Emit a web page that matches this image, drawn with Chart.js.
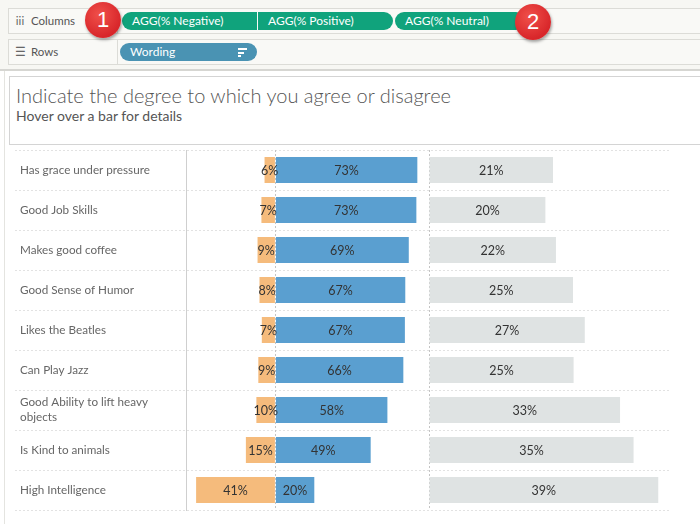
<!DOCTYPE html>
<html>
<head>
<meta charset="utf-8">
<script src="https://cdn.jsdelivr.net/npm/chart.js@4.4.1/dist/chart.umd.min.js"></script>
<style>
  html, body { margin: 0; padding: 0; background: #fff; }
  body { width: 700px; height: 524px; position: relative; overflow: hidden; font-family: Lato, "Open Sans", sans-serif; }
  .shelves { position: absolute; left: 0; top: 0; width: 700px; height: 69px; background: #f7f7f3; border-bottom: 2px solid #d6d6d2; }
  .shelf { position: absolute; left: 8px; width: 700px; height: 24px; border: 1px solid #dcdcd7; background: #f9f9f6; }
  .shelf .name { position: absolute; left: 0; top: 0; width: 108px; height: 24px; line-height: 24px; font-size: 11.5px; color: #555; border-right: 1px solid #dcdcd7; }
  .shelf .name span { display: inline-block; width: 22px; text-align: center; color: #666; }
  .pill { position: absolute; height: 18px; line-height: 18px; color: #fff; font-size: 12px; padding-left: 10px; box-sizing: border-box; }
  .green { background: #10a37c; }
  .blue { background: #4a93b3; border-radius: 9px; }
  .badge { position: absolute; width: 36px; height: 36px; border-radius: 50%; background: radial-gradient(circle at 40% 35%, #f0504a, #d8262a 70%); color: #fff; font: 22px "Liberation Sans", Arial, sans-serif; text-align: center; line-height: 36px; box-shadow: 1px 2px 3px rgba(0,0,0,0.35); }
  .titlebox { position: absolute; left: 9px; top: 76px; width: 700px; height: 69px; border: 1px solid #d4d4d4; border-right: none; box-sizing: border-box; }
  .titlebox .t { position: absolute; left: 6px; top: 6px; font-size: 20px; color: #555; font-weight: 300; }
  .titlebox .s { position: absolute; left: 6px; top: 30px; font-size: 14px; color: #555; font-weight: 400; }
  .leftline { position: absolute; left: 4px; top: 71px; width: 1px; height: 460px; background: #e4e4e0; }
  .wrap { position: absolute; left: 0; top: 140px; width: 700px; height: 384px; }
  .sorticon { position: absolute; right: 10px; top: 5px; width: 9px; }
  .sorticon i { display: block; height: 2px; background: #fff; margin-bottom: 1.5px; }
</style>
</head>
<body>
<div class="shelves">
  <div class="shelf" style="top:8px"><div class="name"><span>iii</span>Columns</div></div>
  <div class="shelf" style="top:39px"><div class="name"><span>&#9776;</span>Rows</div></div>
  <div class="pill green" style="left:122px;top:12px;width:135px;border-radius:9px 0 0 9px">AGG(% Negative)</div>
  <div class="pill green" style="left:258px;top:12px;width:135px;border-radius:0 9px 9px 0">AGG(% Positive)</div>
  <div class="pill green" style="left:395px;top:12px;width:130px;border-radius:9px">AGG(% Neutral)</div>
  <div class="pill blue" style="left:120px;top:43px;width:137px">Wording<div class="sorticon"><i></i><i style="width:6px"></i><i style="width:3px"></i></div></div>
  <div class="badge" style="left:85px;top:2px">1</div>
  <div class="badge" style="left:515px;top:4px">2</div>
</div>
<div class="leftline"></div>
<div class="titlebox">
  <div class="t">Indicate the degree to which you agree or disagree</div>
  <div class="s">Hover over a bar for details</div>
</div>
<div class="wrap"><canvas id="chart"></canvas></div>
<script>
const categories = [
  'Has grace under pressure',
  'Good Job Skills',
  'Makes good coffee',
  'Good Sense of Humor',
  'Likes the Beatles',
  'Can Play Jazz',
  ['Good Ability to lift heavy', 'objects'],
  'Is Kind to animals',
  'High Intelligence'
];
// percentages, labels show them rounded
const negative = [-5.6, -7.2, -9.2, -8.2, -7.0, -8.8, -9.8, -15.2, -40.8];
const positive = [73.0, 72.5, 68.6, 66.8, 66.6, 65.8, 57.6, 49.0, 20.0];
const neutral = [21.1, 19.8, 21.6, 24.5, 26.5, 24.6, 32.5, 34.8, 39.0];

// centred % labels inside every bar
const barLabels = {
  id: 'barLabels',
  afterDatasetsDraw(chart) {
    const ctx = chart.ctx;
    ctx.save();
    ctx.font = '12.5px Lato';
    ctx.fillStyle = '#333';
    ctx.textAlign = 'center';
    ctx.textBaseline = 'middle';
    chart.data.datasets.forEach((ds, i) => {
      chart.getDatasetMeta(i).data.forEach((bar, j) => {
        const p = bar.getProps(['x', 'y', 'base'], true);
        ctx.fillText(Math.round(Math.abs(ds.data[j])) + '%', (p.x + p.base) / 2, p.y + 1);
      });
    });
    ctx.restore();
  }
};

const zeroLine = (c) => (c.tick && c.tick.value === 0 ? '#c4c4c4' : 'rgba(0,0,0,0)');

new Chart(document.getElementById('chart'), {
  type: 'bar',
  data: {
    labels: categories,
    datasets: [
      { label: '% Negative', data: negative, backgroundColor: '#f5bb7c', xAxisID: 'x', stack: 'a' },
      { label: '% Positive', data: positive, backgroundColor: '#5a9fd0', xAxisID: 'x', stack: 'a' },
      { label: '% Neutral', data: neutral, backgroundColor: '#dfe3e3', xAxisID: 'x2', stack: 'a' }
    ]
  },
  options: {
    indexAxis: 'y',
    responsive: true,
    maintainAspectRatio: false,
    animation: false,
    layout: { padding: { left: 20, right: 30, top: 10, bottom: 14 } },
    datasets: { bar: { categoryPercentage: 1, barPercentage: 0.65 } },
    plugins: { legend: { display: false }, tooltip: { enabled: false } },
    scales: {
      y: {
        grid: { color: '#e2e2e2', offset: true, tickLength: 171, tickColor: '#e2e2e2', tickBorderDash: [2, 2] },
        border: { display: true, color: '#cfcfcf', dash: [2, 2] },
        ticks: { crossAlign: 'far', color: '#666', font: { family: 'Lato', size: 11.7, lineHeight: 1.3 }, padding: 0 },
        afterFit: (scale) => { scale.width = 166; }
      },
      x: {
        position: 'bottom', stack: 'cols', stackWeight: 243, stacked: true,
        min: -46, max: 79,
        ticks: { display: false },
        grid: { drawTicks: false, color: zeroLine },
        border: { display: false, dash: [2, 2] }
      },
      x2: {
        position: 'bottom', stack: 'cols', stackWeight: 241,
        min: 0, max: 41,
        ticks: { display: false },
        grid: { drawTicks: false, color: zeroLine },
        border: { display: false, dash: [2, 2] }
      }
    }
  },
  plugins: [barLabels]
});
</script>
</body>
</html>
